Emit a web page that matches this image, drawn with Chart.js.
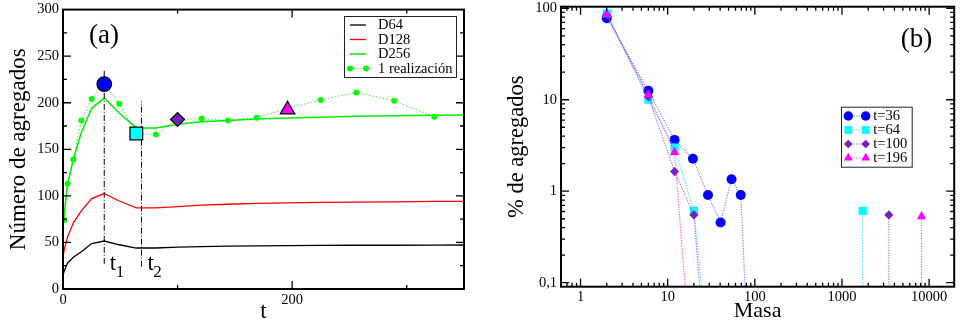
<!DOCTYPE html>
<html>
<head>
<meta charset="utf-8">
<script src="https://cdn.jsdelivr.net/npm/chart.js@4.4.1/dist/chart.umd.min.js"></script>
<style>
  body { margin: 0; background: #fff; }
  .wrap { display: flex; width: 960px; height: 325px; }
  canvas { display: block; }
</style>
</head>
<body>
<div class="wrap">
  <canvas id="panelA" width="480" height="325"></canvas>
  <canvas id="panelB" width="480" height="325"></canvas>
</div>
<script>
// panel (a): number of aggregates against t
const tAvg = [0, 1, 4, 9, 16, 25, 36, 49, 64, 81, 100, 121, 144, 169, 196, 225, 256, 289, 324, 361];
const d64  = [15, 19, 28, 34, 40, 48.8, 51.5, 47.5, 44, 44, 45, 45.5, 46, 46.3, 46.6, 46.8, 47, 47, 47.2, 47.3];
const d128 = [33, 42, 56, 71, 84, 97, 102.5, 94.5, 87, 87, 88.5, 90, 91, 92, 92.5, 93, 93.3, 93.6, 94, 94];
const d256 = [66, 80, 113, 139, 168, 194, 205, 189, 173, 173, 177, 179.5, 181, 182.5, 183.5, 184.5, 185.5, 186, 186.5, 187];
const tReal = [1, 4, 9, 16, 25, 36, 49, 64, 81, 100, 121, 144, 169, 196, 225, 256, 289, 324];
const nReal = [74, 113, 139, 181, 204, 220, 199, 167, 166, 182, 183, 181, 184, 194, 203, 211, 202, 185];
const tSnap = [36, 64, 100, 196];
const nSnap = [220, 167, 182, 192.5];
const tMarks = [36, 68.5];
const markSpans = [[27, 235], [24, 202]];
const xTicksA = [0, 200], xMinorA = [100, 300];
const yTicksA = [0, 50, 100, 150, 200, 250, 300], yMinorA = [25, 75, 125, 175, 225, 275];

// panel (b): % of aggregates against mass (0 = no aggregate of that mass)
const mass36  = [2, 6, 12, 19.5, 29, 40.5, 54, 69, 86];
const pct36   = [78, 12.5, 3.64, 2.26, 0.91, 0.455, 1.35, 0.91, 0];
const mass64  = [2, 6, 12, 20, 31, 1730, 1730];
const pct64   = [88, 10, 3.0, 0.61, 0, 0, 0.61];
const mass100 = [2, 6, 12, 20, 28, 3450, 3450];
const pct100  = [85, 10.8, 1.64, 0.55, 0, 0, 0.55];
const mass196 = [2, 6, 12, 19, 8180, 8180];
const pct196  = [86, 11.3, 2.67, 0, 0, 0.53];
const xTicksB = [1, 10, 100, 1000, 10000];
const yTicksB = [0.1, 1, 10, 100];

const SERIF = "'Liberation Serif', 'DejaVu Serif', serif";
const FLOOR = 0.01;

function decadeMinors(lo, hi, from, to) {
  const out = [];
  for (let d = from; d <= to; d *= 10)
    for (let k = 2; k <= 9; k++) {
      const v = k * d;
      if (v > lo && v < hi) out.push(v);
    }
  return out;
}

function drawMarker(ctx, style, x, y, r, fill, stroke, bw) {
  ctx.beginPath();
  if (style === 'rect') {
    const s = r * Math.SQRT1_2;
    ctx.rect(x - s, y - s, 2 * s, 2 * s);
  } else if (style === 'rectRot') {
    ctx.moveTo(x - r, y); ctx.lineTo(x, y - r); ctx.lineTo(x + r, y); ctx.lineTo(x, y + r); ctx.closePath();
  } else if (style === 'triangle') {
    ctx.moveTo(x, y - r);
    ctx.lineTo(x + r * Math.cos(Math.PI / 6), y + r / 2);
    ctx.lineTo(x - r * Math.cos(Math.PI / 6), y + r / 2);
    ctx.closePath();
  } else {
    ctx.arc(x, y, r, 0, Math.PI * 2);
  }
  ctx.fillStyle = fill;
  ctx.fill();
  if (bw) { ctx.lineWidth = bw; ctx.strokeStyle = stroke; ctx.stroke(); }
}

// xmgrace look: inward ticks on all four sides, box frame, legend box and free texts
const gracePlugin = {
  id: 'grace',
  afterDraw(chart, args, o) {
    const { ctx, chartArea: a, scales } = chart;
    const xs = scales.x, ys = scales.y;
    ctx.save();
    ctx.strokeStyle = '#000';
    ctx.lineWidth = 1.3;
    ctx.setLineDash([]);
    ctx.beginPath();
    const put = (vals, len, isX) => vals.forEach(v => {
      if (isX) {
        const p = xs.getPixelForValue(v);
        if (p <= a.left + 1 || p >= a.right - 1) return;
        ctx.moveTo(p, a.bottom); ctx.lineTo(p, a.bottom - len);
        ctx.moveTo(p, a.top); ctx.lineTo(p, a.top + len);
      } else {
        const p = ys.getPixelForValue(v);
        if (p <= a.top + 1 || p >= a.bottom - 1) return;
        ctx.moveTo(a.left, p); ctx.lineTo(a.left + len, p);
        ctx.moveTo(a.right, p); ctx.lineTo(a.right - len, p);
      }
    });
    put(o.xMajor, 8, true); put(o.xMinor, 4, true);
    put(o.yMajor, 8, false); put(o.yMinor, 4, false);
    ctx.stroke();
    ctx.lineWidth = 2;
    ctx.strokeRect(a.left, a.top, a.width, a.height);

    // legend
    const L = o.legend;
    ctx.lineWidth = 1;
    ctx.strokeStyle = '#222';
    ctx.strokeRect(L.left + 0.5, L.top + 0.5, L.width, L.height);
    ctx.font = L.font;
    ctx.textBaseline = 'middle';
    ctx.textAlign = 'left';
    let row = 0;
    chart.data.datasets.forEach(ds => {
      if (!ds.label) return;
      const y = L.top + L.first + row * L.rowH;
      if (ds.showLine !== false) {
        ctx.beginPath();
        ctx.setLineDash(ds.borderDash || []);
        ctx.strokeStyle = ds.borderColor;
        ctx.lineWidth = ds.borderWidth;
        ctx.moveTo(L.x0, y); ctx.lineTo(L.x1, y);
        ctx.stroke();
        ctx.setLineDash([]);
      }
      if (ds.legendRadius) {
        [L.x0, L.x1].forEach(px => drawMarker(ctx, ds.pointStyle || 'circle', px, y, ds.legendRadius,
          ds.pointBackgroundColor, '#000', 0));
      }
      ctx.fillStyle = '#000';
      ctx.fillText(ds.label, L.textX, y + 0.5);
      row++;
    });

    // free texts
    ctx.fillStyle = '#000';
    ctx.textBaseline = 'alphabetic';
    (o.texts || []).forEach(t => {
      let x = t.px, y = t.py;
      if (t.xv !== undefined) x = xs.getPixelForValue(t.xv) + t.dx;
      if (t.yv !== undefined) y = ys.getPixelForValue(t.yv);
      ctx.font = t.font;
      ctx.fillText(t.text, x, y);
      if (t.sub) {
        const w = ctx.measureText(t.text).width;
        ctx.font = t.subFont;
        ctx.fillText(t.sub, x + w - 0.5, y + 7);
      }
    });
    ctx.restore();
  }
};

function fixBox(width, height) {
  return {
    y: s => { s.width = width; s.paddingTop = 0; s.paddingBottom = 0; },
    x: s => { s.height = height; s.paddingLeft = 0; s.paddingRight = 0; }
  };
}

const tickFont = { family: SERIF, size: 14.5 };

// ---------- panel (a) ----------
const pts = (xs, ys) => xs.map((v, i) => ({ x: v, y: ys[i] }));
const fitA = fixBox(63, 36);

const dsA = [
  { label: 'D64', data: pts(tAvg, d64), borderColor: '#000', borderWidth: 1.3, pointRadius: 0, order: 6 },
  { label: 'D128', data: pts(tAvg, d128), borderColor: '#ff0000', borderWidth: 1.3, pointRadius: 0, order: 5 },
  { label: 'D256', data: pts(tAvg, d256), borderColor: '#00ee00', borderWidth: 1.5, pointRadius: 0, order: 4 },
  { label: '1 realización', data: pts(tReal, nReal), borderColor: 'rgba(0,230,0,0.75)', borderWidth: 1,
    borderDash: [1.5, 2], pointRadius: 3, pointBorderWidth: 0, pointBackgroundColor: '#00ff00',
    legendRadius: 3, order: 2 }
];
tMarks.forEach((t, i) => {
  dsA.push({ data: [{ x: t, y: markSpans[i][0] }, { x: t, y: markSpans[i][1] }], borderColor: '#000',
    borderWidth: 1, borderDash: [6, 2, 1, 2], pointRadius: 0, order: 3 });
});
dsA.push({
  data: pts(tSnap, nSnap), showLine: false, order: 0,
  pointStyle: ['circle', 'rect', 'rectRot', 'triangle'],
  pointRadius: [7.3, 9, 7, 8.4],
  pointBackgroundColor: ['#0000ff', '#00ffff', '#7221bc', '#ff00ff'],
  pointBorderColor: '#000', pointBorderWidth: 1.2
});

new Chart(document.getElementById('panelA'), {
  type: 'line',
  data: { datasets: dsA },
  options: {
    responsive: false, animation: false, events: [],
    layout: { padding: { top: 8, right: 16, left: 0, bottom: 0 } },
    elements: { line: { tension: 0 } },
    scales: {
      x: {
        type: 'linear', min: 0, max: 350,
        grid: { display: false, drawTicks: false }, border: { display: false },
        afterBuildTicks: s => { s.ticks = xTicksA.map(v => ({ value: v })); },
        afterFit: fitA.x,
        ticks: { font: tickFont, color: '#000', padding: 2, maxRotation: 0 },
        title: { display: true, text: 't', color: '#000', font: { family: SERIF, size: 23, lineHeight: 1 },
          padding: { top: 0, bottom: 1.3 } }
      },
      y: {
        type: 'linear', min: 0, max: 300,
        grid: { display: false, drawTicks: false }, border: { display: false },
        afterBuildTicks: s => { s.ticks = yTicksA.map(v => ({ value: v })); },
        afterFit: fitA.y,
        ticks: { font: tickFont, color: '#000', padding: 4 },
        title: { display: true, text: 'Número de agregados', color: '#000', font: { family: SERIF, size: 23 },
          padding: { top: 5, bottom: 0 } }
      }
    },
    plugins: {
      legend: { display: false }, tooltip: { enabled: false },
      grace: {
        xMajor: xTicksA, xMinor: xMinorA, yMajor: yTicksA, yMinor: yMinorA,
        legend: { left: 344, top: 16, width: 112, height: 61, first: 9, rowH: 14.5,
          x0: 350, x1: 366, textX: 378, font: '14.5px ' + SERIF },
        texts: [
          { text: '(a)', px: 89, py: 43, font: '27px ' + SERIF },
          { text: 't', sub: '1', xv: tMarks[0], dx: 5.5, yv: 20.3, font: '23px ' + SERIF, subFont: '17px ' + SERIF },
          { text: 't', sub: '2', xv: tMarks[1], dx: 6, yv: 20.3, font: '23px ' + SERIF, subFont: '17px ' + SERIF }
        ]
      }
    }
  },
  plugins: [gracePlugin]
});

// ---------- panel (b) ----------
const fitB = fixBox(81, 38.3);
const series = [
  { label: 't=36', m: mass36, p: pct36, color: '#0000ff', line: 'rgba(60,60,255,0.6)', style: 'circle', r: 5, order: 4 },
  { label: 't=64', m: mass64, p: pct64, color: '#00ffff', line: 'rgba(0,220,230,0.7)', style: 'rect', r: 5.8, order: 3 },
  { label: 't=100', m: mass100, p: pct100, color: '#7221bc', line: 'rgba(114,33,188,0.6)', style: 'rectRot', r: 4.6, order: 2 },
  { label: 't=196', m: mass196, p: pct196, color: '#ff00ff', line: 'rgba(255,0,255,0.65)', style: 'triangle', r: 5.4, order: 1 }
];
const dsB = series.map(s => ({
  label: s.label,
  data: s.m.map((m, i) => ({ x: m, y: s.p[i] > 0 ? s.p[i] : FLOOR })),
  borderColor: s.line, borderWidth: 1.2, borderDash: [1.3, 1.3],
  pointStyle: s.style, pointRadius: s.p.map(v => v > 0 ? s.r : 0),
  pointBackgroundColor: s.color, pointBorderWidth: 0, legendRadius: s.r * 0.95,
  order: s.order, clip: { left: 0, top: 10, right: 10, bottom: 0 }
}));

new Chart(document.getElementById('panelB'), {
  type: 'line',
  data: { datasets: dsB },
  options: {
    responsive: false, animation: false, events: [],
    layout: { padding: { top: 6.7, right: 2, left: 0, bottom: 0 } },
    elements: { line: { tension: 0 } },
    scales: {
      x: {
        type: 'logarithmic', min: 0.597, max: 19400,
        grid: { display: false, drawTicks: false }, border: { display: false },
        afterBuildTicks: s => { s.ticks = xTicksB.map(v => ({ value: v })); },
        afterFit: fitB.x,
        ticks: { font: tickFont, color: '#000', padding: 2, maxRotation: 0, callback: v => String(v) },
        title: { display: true, text: 'Masa', color: '#000', font: { family: SERIF, size: 22, lineHeight: 1 },
          padding: { top: 0, bottom: 2.4 } }
      },
      y: {
        type: 'logarithmic', min: 0.0904, max: 104,
        grid: { display: false, drawTicks: false }, border: { display: false },
        afterBuildTicks: s => { s.ticks = yTicksB.map(v => ({ value: v })); },
        afterFit: fitB.y,
        ticks: { font: tickFont, color: '#000', padding: 4, callback: v => String(v).replace('.', ',') },
        title: { display: true, text: '% de agregados', color: '#000', font: { family: SERIF, size: 22.5 },
          padding: { top: 23.7, bottom: 0 } }
      }
    },
    plugins: {
      legend: { display: false }, tooltip: { enabled: false },
      grace: {
        xMajor: xTicksB, xMinor: decadeMinors(0.597, 19400, 0.1, 10000),
        yMajor: yTicksB, yMinor: decadeMinors(0.0904, 104, 0.1, 10),
        legend: { left: 361, top: 106.7, width: 70.7, height: 60, first: 9.3, rowH: 14,
          x0: 368.3, x1: 385.7, textX: 393.3, font: '14.5px ' + SERIF },
        texts: [
          { text: '(b)', px: 420.7, py: 47.3, font: '27px ' + SERIF }
        ]
      }
    }
  },
  plugins: [gracePlugin]
});
</script>
</body>
</html>
